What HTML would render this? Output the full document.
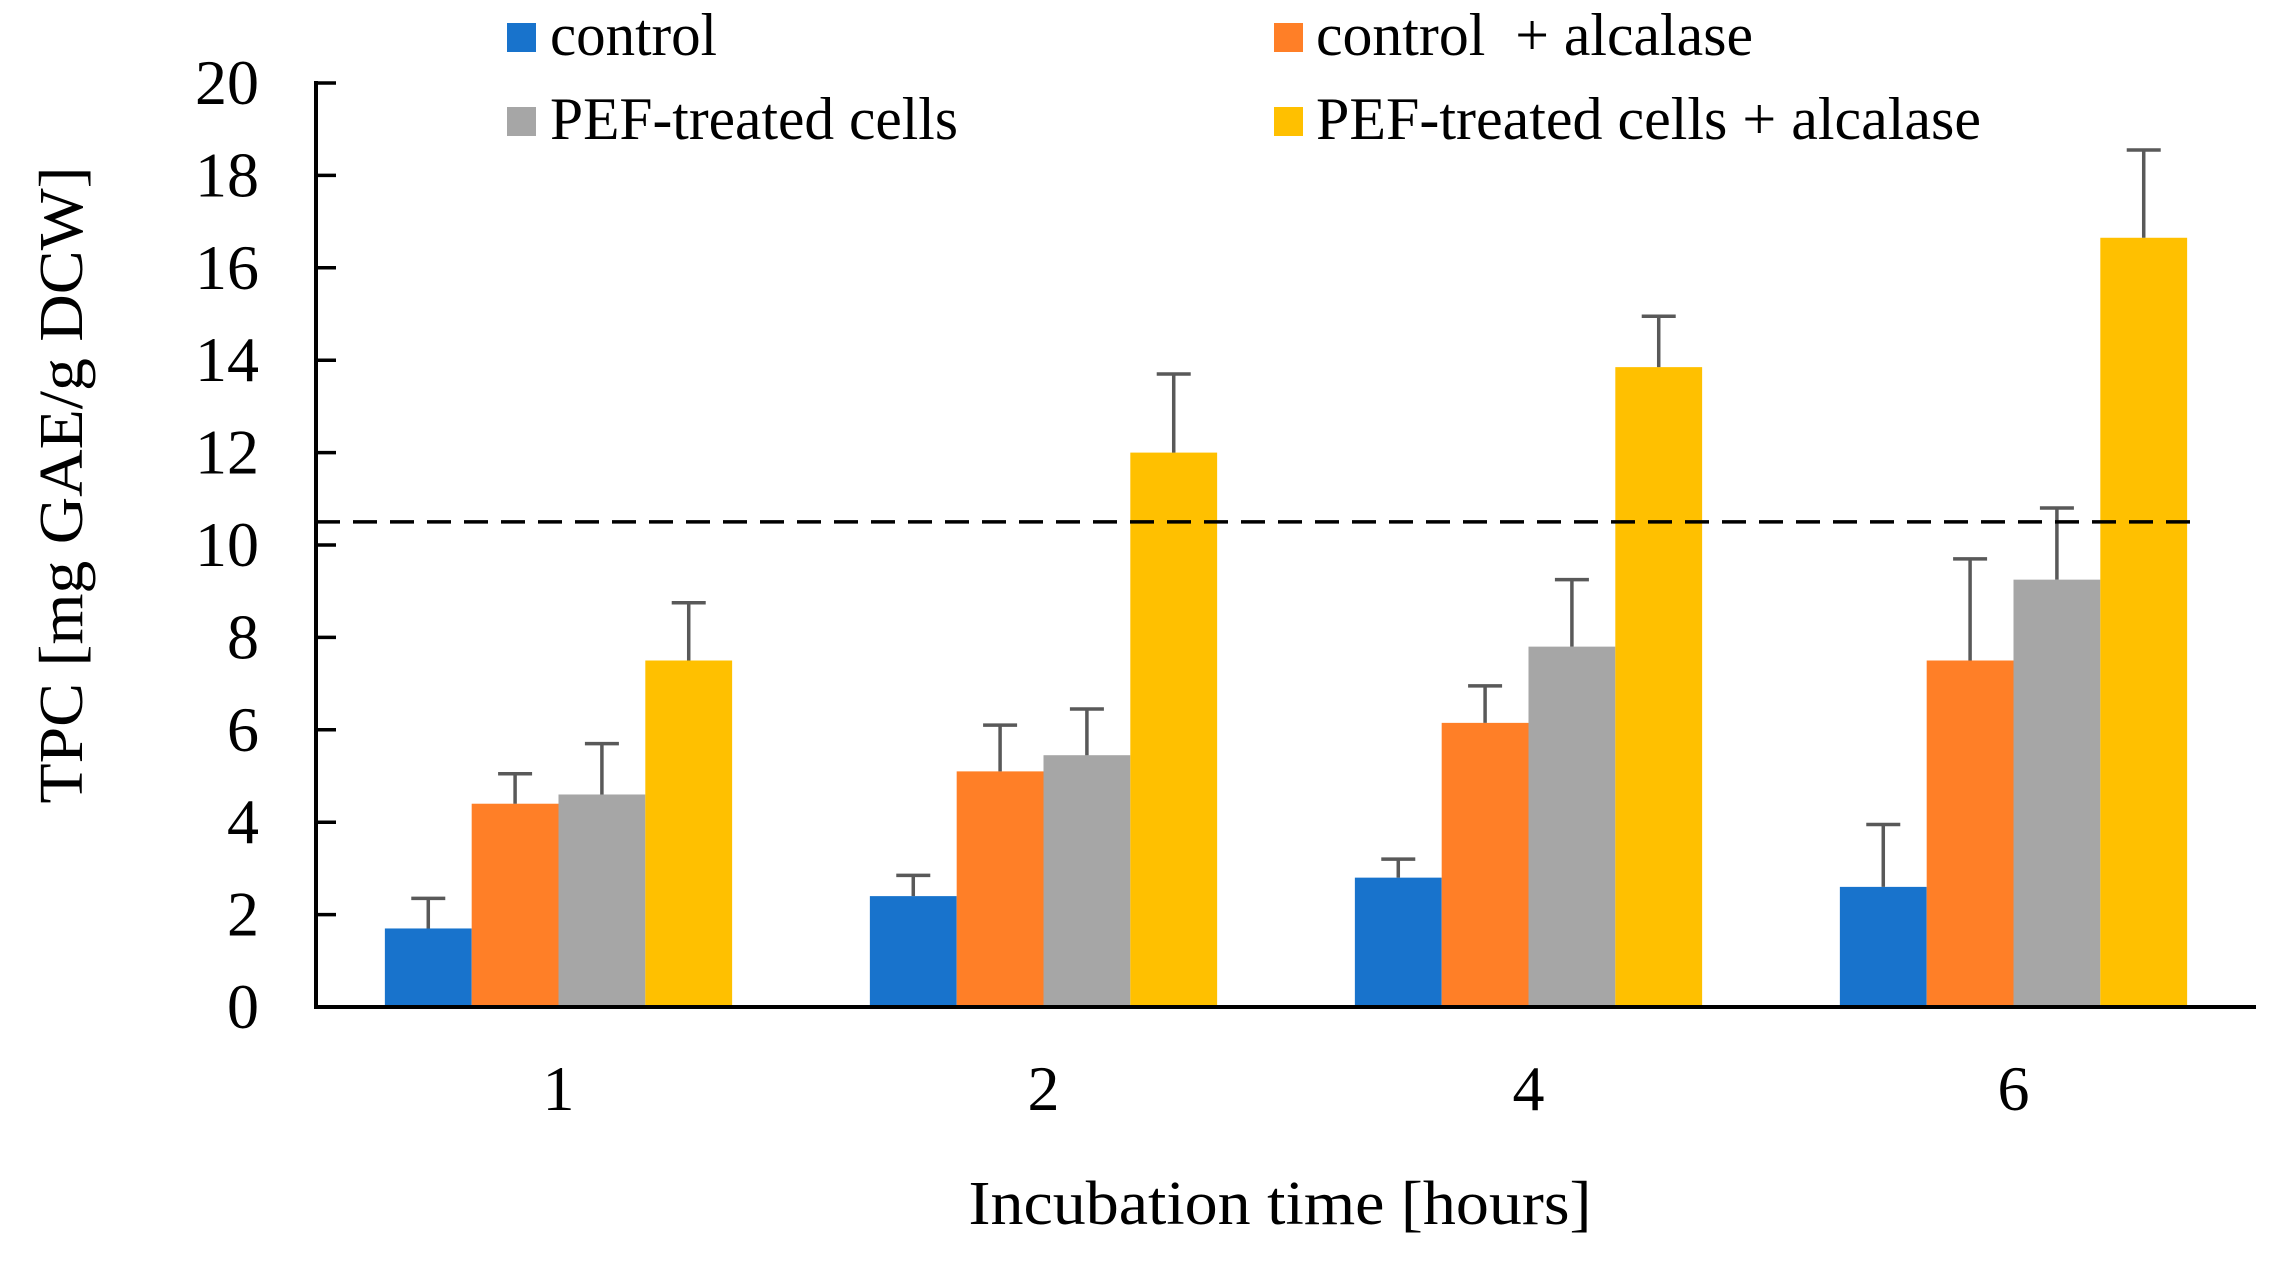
<!DOCTYPE html>
<html><head><meta charset="utf-8"><style>
html,body{margin:0;padding:0;background:#fff;}
svg{display:block;font-family:"Liberation Serif",serif;}
</style></head><body>
<svg id="chart" width="2271" height="1261" viewBox="0 0 2271 1261">
<g id="legend">
 <g><rect x="507" y="23" width="29" height="29" fill="#1873CC"/><text x="550" y="55" font-size="60" textLength="167" lengthAdjust="spacingAndGlyphs">control</text></g>
 <g><rect x="1274" y="23" width="29" height="29" fill="#FF7F27"/><text x="1316" y="55" font-size="60" textLength="437" lengthAdjust="spacingAndGlyphs" xml:space="preserve">control  + alcalase</text></g>
 <g><rect x="507" y="107" width="29" height="29" fill="#A6A6A6"/><text x="550" y="139" font-size="60" textLength="408" lengthAdjust="spacingAndGlyphs">PEF-treated cells</text></g>
 <g><rect x="1274" y="107" width="29" height="29" fill="#FFC000"/><text x="1316" y="139" font-size="60" textLength="665" lengthAdjust="spacingAndGlyphs">PEF-treated cells + alcalase</text></g>
</g>
<g id="plot"></g>
<text x="1280" y="1224" font-size="62" text-anchor="middle" textLength="623" lengthAdjust="spacingAndGlyphs">Incubation time [hours]</text>
<text transform="translate(82,485) rotate(-90)" font-size="62" text-anchor="middle" textLength="637" lengthAdjust="spacingAndGlyphs">TPC [mg GAE/g DCW]</text>
</svg>
<script>
const categories = ["1","2","4","6"];
const seriesNames = ["control","control + alcalase","PEF-treated cells","PEF-treated cells + alcalase"];
const controlVals = [1.7, 2.4, 2.8, 2.6];
const controlAlcVals = [4.4, 5.1, 6.15, 7.5];
const pefVals = [4.6, 5.45, 7.8, 9.25];
const pefAlcVals = [7.5, 12.0, 13.85, 16.65];
const controlErr = [0.65, 0.45, 0.4, 1.35];
const controlAlcErr = [0.65, 1.0, 0.8, 2.2];
const pefErr = [1.1, 1.0, 1.45, 1.55];
const pefAlcErr = [1.25, 1.7, 1.1, 1.9];
const yTicks = [0,2,4,6,8,10,12,14,16,18,20];
const thresholdValue = 10.5;

const colors = ["#1873CC","#FF7F27","#A6A6A6","#FFC000"];
const X0 = 316, X1 = 2256, Y0 = 1007, Ytop = 83;
const yScale = v => Y0 - (v/20)*(Y0-Ytop);
const catW = (X1-X0)/categories.length;
const barW = catW*0.179;
const xCenter = i => X0 + catW*(i+0.5);
const NS = "http://www.w3.org/2000/svg";
const plot = document.getElementById('plot');
function mk(tag, attrs){const e=document.createElementNS(NS,tag);for(const k in attrs)e.setAttribute(k,attrs[k]);plot.appendChild(e);return e;}

const vals=[controlVals,controlAlcVals,pefVals,pefAlcVals];
const errs=[controlErr,controlAlcErr,pefErr,pefAlcErr];
categories.forEach((c,i)=>{
  vals.forEach((s,j)=>{
    const x = xCenter(i) + (j-2)*barW;
    const r = mk('rect',{x:x,y:yScale(s[i]),width:barW,height:Y0-yScale(s[i]),fill:colors[j]});
    
    
    const cx = x + barW/2, yt = yScale(s[i]+errs[j][i]);
    const e = mk('path',{d:`M${cx},${yScale(s[i])}V${yt}M${cx-17},${yt}H${cx+17}`,stroke:"#595959","stroke-width":3.5,fill:"none"});
    
    
  });
  const t = mk('text',{x:xCenter(i),y:1110,"font-size":64,"text-anchor":"middle"});
  t.textContent=c;
  
  
});
const dl = mk('line',{x1:X0,x2:2190,y1:yScale(thresholdValue),y2:yScale(thresholdValue),stroke:"#000","stroke-width":3.5,"stroke-dasharray":"24,13"});


yTicks.forEach(v=>{
  const l = mk('line',{x1:X0,x2:X0+20,y1:yScale(v),y2:yScale(v),stroke:"#000","stroke-width":3.5});
  
  
  const t = mk('text',{x:259,y:yScale(v)+21,"font-size":64,"text-anchor":"end"});
  t.textContent=v;
  
  
});
const ya = mk('line',{x1:X0,x2:X0,y1:Ytop-2,y2:Y0+2,stroke:"#000","stroke-width":4});


const xa = mk('line',{x1:X0-2,x2:X1,y1:Y0,y2:Y0,stroke:"#000","stroke-width":4});


</script>
</body></html>
